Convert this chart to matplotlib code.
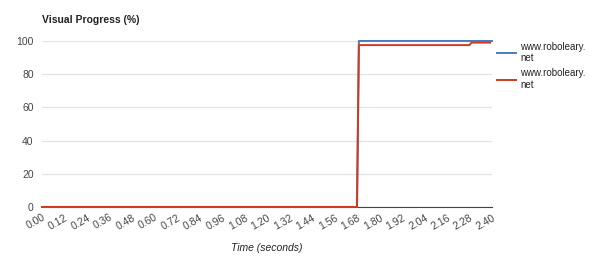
import matplotlib
matplotlib.use("Agg")
import matplotlib.pyplot as plt

plt.rcParams['font.family'] = ['Liberation Sans', 'DejaVu Sans']

# Data
blue_t = [0.00, 1.68, 1.69, 2.40]
blue_v = [0, 0, 100, 100]
red_t = [0.00, 1.68, 1.69, 2.28, 2.29, 2.39]
red_v = [0, 0, 97.5, 97.5, 99, 99]
series_labels = ["www.roboleary.\nnet", "www.roboleary.\nnet"]
xticks = [0.00, 0.12, 0.24, 0.36, 0.48, 0.60, 0.72, 0.84, 0.96, 1.08, 1.20,
          1.32, 1.44, 1.56, 1.68, 1.80, 1.92, 2.04, 2.16, 2.28, 2.40]
yticks = [0, 20, 40, 60, 80, 100]

fig = plt.figure(figsize=(6, 2.66), dpi=100)
ax = fig.add_axes([0.07, 0.222, 0.75, 0.624])

ax.plot(blue_t, blue_v, color='#4a7bbf', lw=1.4, label=series_labels[0], zorder=3, clip_on=False)
ax.plot(red_t, red_v, color='#d03a1e', lw=1.4, label=series_labels[1], zorder=4, clip_on=False)

ax.set_xlim(0, 2.40)
ax.set_ylim(0, 100)
ax.set_yticks(yticks)
ax.set_xticks(xticks)
ax.set_xticklabels([f"{t:.2f}" for t in xticks], rotation=30, ha='right',
                   rotation_mode='anchor', fontsize=7.5, color='#444444')
ax.set_yticklabels([str(y) for y in yticks], fontsize=7.5, color='#444444')
ax.tick_params(length=0, pad=6)
ax.tick_params(axis='x', pad=4)
ax.grid(axis='y', color='#e3e3e3', lw=0.9)
ax.set_axisbelow(True)
for s in ['top', 'right', 'left']:
    ax.spines[s].set_visible(False)
ax.spines['bottom'].set_color('#444444')
ax.spines['bottom'].set_linewidth(0.8)

ax.set_xlabel("Time (seconds)", fontstyle='italic', fontsize=7.5, color='#222222', labelpad=8)
fig.text(0.07, 0.915, "Visual Progress (%)", fontsize=7.5, fontweight='bold', color='#222222')

leg = ax.legend(loc='upper left', bbox_to_anchor=(0.998, 1.03), frameon=False,
                fontsize=7, handlelength=2.0, labelspacing=0.5, handletextpad=0.4,
                borderaxespad=0.2)
for t in leg.get_texts():
    t.set_color('#222222')

fig.savefig("out.png", dpi=100)
